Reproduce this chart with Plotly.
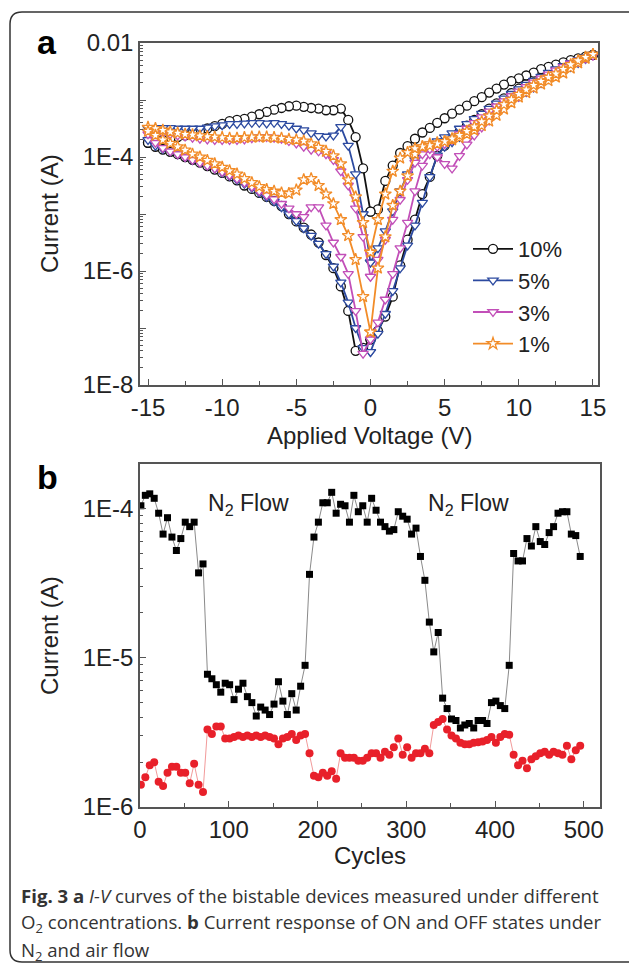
import numpy as np
import plotly.graph_objects as go

W, H = 629, 969

# ---------------- Panel a data (log10 of current in A) ----------------
# sweep branches: B1 0 -> +15, B2 +15 -> 0, B3 0 -> -15, B4 -15 -> 0 (0.5 V steps)
v_b1 = [i * 0.5 for i in range(31)]
v_b2 = v_b1[::-1]
v_b3 = [-v for v in v_b1]
v_b4 = v_b3[::-1]

labels = ["10%", "5%", "3%", "1%"]

log_10_b1 = [-7.2, -7.05, -6.8, -6.45, -5.9, -5.45, -5.1, -4.65, -4.35, -3.98, -3.8, -3.68, -3.56, -3.45, -3.35, -3.25,
             -3.15, -3.06, -2.97, -2.88, -2.8, -2.72, -2.65, -2.58, -2.52, -2.46, -2.4, -2.34, -2.29, -2.25, -2.21]
log_10_b2 = [-2.21, -2.24, -2.27, -2.3, -2.34, -2.38, -2.42, -2.46, -2.52, -2.57, -2.62, -2.67, -2.73, -2.8, -2.87, -2.95,
             -3.02, -3.1, -3.17, -3.24, -3.32, -3.4, -3.49, -3.57, -3.68, -3.81, -3.93, -4.15, -4.42, -4.92, -4.96]
log_10_b3 = [-4.96, -4.2, -3.65, -3.35, -3.15, -3.18, -3.18, -3.15, -3.14, -3.12, -3.1, -3.11, -3.14, -3.17, -3.21, -3.25,
             -3.29, -3.33, -3.35, -3.37, -3.42, -3.46, -3.5, -3.55, -3.58, -3.62, -3.65, -3.68, -3.7, -3.72, -3.75]
log_10_b4 = [-3.75, -3.82, -3.87, -3.91, -3.95, -4.0, -4.05, -4.1, -4.16, -4.22, -4.28, -4.34, -4.41, -4.5, -4.56, -4.63,
             -4.7, -4.77, -4.86, -5.0, -5.13, -5.24, -5.36, -5.5, -5.72, -5.95, -6.27, -6.7, -7.4, -7.35, -7.2]

log_5_b1 = [-7.42, -7.1, -6.75, -6.35, -5.95, -5.55, -5.2, -4.8, -4.35, -3.97, -3.82, -3.74, -3.65, -3.56, -3.47, -3.38,
            -3.29, -3.2, -3.11, -3.02, -2.94, -2.86, -2.78, -2.7, -2.63, -2.56, -2.49, -2.42, -2.35, -2.28, -2.21]
log_5_b2 = [-2.2, -2.25, -2.3, -2.35, -2.4, -2.46, -2.52, -2.59, -2.66, -2.73, -2.81, -2.89, -2.97, -3.06, -3.15, -3.24,
            -3.33, -3.42, -3.5, -3.58, -3.65, -3.72, -3.78, -3.88, -4.05, -4.3, -4.6, -4.95, -5.3, -5.6, -5.85]
log_5_b3 = [-5.85, -5.0, -4.3, -3.8, -3.47, -3.62, -3.64, -3.63, -3.58, -3.53, -3.5, -3.45, -3.42, -3.4, -3.41, -3.4,
            -3.4, -3.41, -3.42, -3.42, -3.44, -3.46, -3.48, -3.5, -3.5, -3.5, -3.5, -3.49, -3.49, -3.49, -3.5]
log_5_b4 = [-3.7, -3.8, -3.86, -3.9, -3.95, -4.0, -4.05, -4.1, -4.15, -4.2, -4.27, -4.33, -4.4, -4.47, -4.54, -4.62,
            -4.7, -4.78, -4.88, -5.0, -5.12, -5.25, -5.38, -5.52, -5.7, -5.92, -6.2, -6.55, -7.0, -7.35, -7.42]

log_3_b1 = [-7.2, -6.9, -6.5, -6.05, -5.6, -5.15, -4.6, -4.15, -3.95, -4.0, -4.12, -4.2, -3.98, -3.78, -3.62, -3.48,
            -3.36, -3.24, -3.13, -3.03, -2.94, -2.85, -2.77, -2.69, -2.61, -2.54, -2.47, -2.4, -2.33, -2.27, -2.22]
log_3_b2 = [-2.22, -2.26, -2.31, -2.36, -2.42, -2.48, -2.55, -2.62, -2.69, -2.77, -2.85, -2.93, -3.02, -3.11, -3.2, -3.3,
            -3.4, -3.5, -3.6, -3.7, -3.77, -3.82, -3.86, -3.95, -4.1, -4.4, -4.75, -5.1, -5.45, -5.8, -6.1]
log_3_b3 = [-6.1, -5.4, -4.9, -4.5, -4.25, -4.05, -3.95, -3.9, -3.87, -3.82, -3.76, -3.72, -3.68, -3.66, -3.65, -3.65,
            -3.67, -3.69, -3.7, -3.7, -3.7, -3.7, -3.69, -3.68, -3.66, -3.64, -3.62, -3.6, -3.58, -3.57, -3.56]
log_3_b4 = [-3.6, -3.75, -3.84, -3.9, -3.95, -4.0, -4.05, -4.1, -4.15, -4.2, -4.26, -4.32, -4.38, -4.45, -4.52, -4.6,
            -4.67, -4.74, -4.82, -4.9, -5.0, -5.05, -4.88, -4.88, -5.2, -5.5, -5.75, -6.05, -6.7, -7.45, -7.2]

log_1_b1 = [-7.07, -5.95, -5.4, -4.85, -4.6, -4.33, -3.95, -3.82, -3.77, -3.75, -3.73, -3.7, -3.66, -3.6, -3.53, -3.45,
            -3.37, -3.27, -3.16, -3.05, -2.95, -2.87, -2.79, -2.72, -2.66, -2.6, -2.53, -2.44, -2.35, -2.27, -2.2]
log_1_b2 = [-2.2, -2.25, -2.31, -2.38, -2.46, -2.54, -2.6, -2.67, -2.74, -2.82, -2.9, -2.99, -3.08, -3.18, -3.28, -3.38,
            -3.47, -3.55, -3.62, -3.68, -3.73, -3.77, -3.8, -3.82, -3.85, -3.92, -4.02, -4.25, -4.65, -5.1, -5.67]
log_1_b3 = [-5.67, -5.15, -4.7, -4.4, -4.12, -3.98, -3.9, -3.83, -3.77, -3.72, -3.7, -3.69, -3.67, -3.66, -3.65, -3.65,
            -3.65, -3.66, -3.67, -3.67, -3.66, -3.65, -3.64, -3.63, -3.61, -3.6, -3.58, -3.56, -3.53, -3.5, -3.48]
log_1_b4 = [-3.55, -3.62, -3.7, -3.76, -3.82, -3.88, -3.95, -4.0, -4.06, -4.12, -4.18, -4.24, -4.3, -4.38, -4.45, -4.52,
            -4.57, -4.6, -4.63, -4.64, -4.58, -4.4, -4.38, -4.5, -4.65, -4.82, -5.1, -5.38, -5.8, -6.45, -7.07]

series_a = [
    (log_10_b1, log_10_b2, log_10_b3, log_10_b4),
    (log_5_b1, log_5_b2, log_5_b3, log_5_b4),
    (log_3_b1, log_3_b2, log_3_b3, log_3_b4),
    (log_1_b1, log_1_b2, log_1_b3, log_1_b4),
]

volt_ticks = [-15, -10, -5, 0, 5, 10, 15]
volt_ticktext = ["-15", "-10", "-5", "0", "5", "10", "15"]

# ---------------- Panel b data ----------------
cycles = list(range(1, 500, 5))
log_on = [-3.98, -3.91, -3.9, -3.93, -4.03, -4.17, -4.06, -4.19, -4.28, -4.2, -4.09, -4.12, -4.09, -4.43, -4.37,
          -5.11, -5.14, -5.18, -5.23, -5.17, -5.18, -5.28, -5.21, -5.17, -5.26, -5.3, -5.39, -5.33, -5.35, -5.38,
          -5.31, -5.16, -5.29, -5.38, -5.24, -5.35, -5.19, -5.05,
          -4.44, -4.19, -4.09, -3.96, -3.96, -3.89, -4.03, -3.97, -3.98, -4.09, -3.91, -4.02, -3.98, -4.09, -3.93,
          -4.01, -4.09, -4.12, -4.15, -4.14, -4.02, -4.05, -4.07, -4.17, -4.13, -4.32, -4.48, -4.76,
          -4.96, -4.83,
          -5.27, -5.34, -5.41, -5.42, -5.47, -5.45, -5.44, -5.47, -5.42, -5.42, -5.44, -5.3, -5.29, -5.32, -5.34,
          -5.05,
          -4.3, -4.35, -4.35, -4.2, -4.25, -4.12, -4.22, -4.24, -4.16, -4.12, -4.03, -4.02, -4.02, -4.17, -4.18, -4.32]
log_off = [-5.85, -5.8, -5.72, -5.7, -5.83, -5.86, -5.77, -5.73, -5.73, -5.77, -5.77, -5.84, -5.71, -5.85, -5.9,
           -5.48, -5.51, -5.46, -5.46, -5.54, -5.54, -5.53, -5.52, -5.53, -5.52, -5.53, -5.52, -5.53, -5.52, -5.53,
           -5.54, -5.58, -5.54, -5.53, -5.51, -5.55, -5.52, -5.51,
           -5.64, -5.79, -5.8, -5.77, -5.79, -5.76, -5.81, -5.64, -5.67, -5.67, -5.67, -5.69, -5.69, -5.67, -5.64,
           -5.64, -5.67, -5.63, -5.65, -5.6, -5.54, -5.65, -5.6, -5.67, -5.64, -5.64, -5.61, -5.64,
           -5.45, -5.43, -5.41, -5.48, -5.52, -5.54, -5.57, -5.58, -5.58, -5.57, -5.565, -5.56, -5.55, -5.53, -5.57,
           -5.53, -5.51, -5.515,
           -5.65, -5.72, -5.69, -5.74, -5.68, -5.66, -5.64, -5.63, -5.65, -5.63, -5.64, -5.65, -5.59, -5.68, -5.62, -5.59]

# ---------------- styles ----------------
colors = ["#111111", "#2c4aa0", "#c24fb8", "#f28c28"]
symbols = ["circle", "triangle-down", "triangle-down", "star"]
FONT = "Liberation Sans"


def px_x(p):
    return p / W


def px_y(p):
    return 1 - p / H


fig = go.Figure()

for lab, col, sym, br in zip(labels, colors, symbols, series_a):
    vx = v_b1 + v_b2 + v_b3 + v_b4
    ly = br[0] + br[1] + br[2] + br[3]
    fig.add_trace(go.Scatter(
        x=vx, y=10 ** np.array(ly), mode="lines+markers", name=lab,
        line=dict(color=col, width=1.8),
        marker=dict(symbol=sym, size=9, color="white", line=dict(color=col, width=1.3)),
        xaxis="x", yaxis="y"))

fig.add_trace(go.Scatter(
    x=cycles, y=10 ** np.array(log_on), mode="lines+markers", showlegend=False,
    line=dict(color="#8a8a8a", width=1),
    marker=dict(symbol="square", size=7, color="black"),
    xaxis="x2", yaxis="y2"))
fig.add_trace(go.Scatter(
    x=cycles, y=10 ** np.array(log_off), mode="lines+markers", showlegend=False,
    line=dict(color="#f29a9a", width=1),
    marker=dict(symbol="circle", size=8, color="#e8202a"),
    xaxis="x2", yaxis="y2"))

minor_a = [m * 10.0 ** e for e in range(-8, -2) for m in range(2, 10)]
minor_b = [m * 10.0 ** e for e in range(-6, -3) for m in range(2, 10)]

axis_common = dict(showline=True, linecolor="#555", linewidth=1.5, mirror=True, showgrid=False,
                   zeroline=False, ticks="inside", tickcolor="#555", tickwidth=1.2, automargin=False,
                   tickfont=dict(family=FONT, size=24, color="#222"))

fig.update_layout(
    width=W, height=H, margin=dict(l=0, r=0, t=0, b=0, pad=0), autosize=False,
    paper_bgcolor="white", plot_bgcolor="white",
    xaxis=dict(domain=[px_x(140), px_x(598)], range=[-15.54, 15.34], anchor="y",
               tickmode="array", tickvals=volt_ticks, ticktext=volt_ticktext, ticklen=6,
               minor=dict(tickvals=[-12.5, -7.5, -2.5, 2.5, 7.5, 12.5], ticks="inside", ticklen=4,
                          tickcolor="#555"),
               **axis_common),
    yaxis=dict(domain=[px_y(385), px_y(43)], type="log", range=[-8, -2], anchor="x",
               tickvals=[1e-8, 1e-7, 1e-6, 1e-5, 1e-4, 1e-3, 1e-2],
               ticktext=["1E-8", "", "1E-6", "", "1E-4", "", "0.01"], ticklen=6,
               minor=dict(tickmode="array", tickvals=minor_a, ticks="inside", ticklen=3, tickcolor="#555"),
               **axis_common),
    xaxis2=dict(domain=[px_x(140), px_x(600)], range=[0, 518.3], anchor="y2",
                tickvals=[0, 100, 200, 300, 400, 500], ticklen=6,
                minor=dict(tickvals=[50, 150, 250, 350, 450], ticks="inside", ticklen=4, tickcolor="#555"),
                **axis_common),
    yaxis2=dict(domain=[px_y(807), px_y(464)], type="log", range=[-6, -3.7], anchor="x2",
                tickvals=[1e-6, 1e-5, 1e-4], ticktext=["1E-6", "1E-5", "1E-4"], ticklen=6,
                minor=dict(tickmode="array", tickvals=minor_b, ticks="inside", ticklen=3, tickcolor="#555"),
                **axis_common),
    legend=dict(x=px_x(468), y=px_y(228), xanchor="left", yanchor="top",
                font=dict(family=FONT, size=22, color="#222"), bgcolor="rgba(0,0,0,0)",
                tracegroupgap=0, itemwidth=40),
    showlegend=True,
)

ann = []
ann.append(dict(text="<b>a</b>", x=px_x(47), y=px_y(42), font=dict(family=FONT, size=34, color="black")))
ann.append(dict(text="<b>b</b>", x=px_x(47), y=px_y(477), font=dict(family=FONT, size=34, color="black")))
ann.append(dict(text="Current (A)", x=px_x(49), y=px_y(214), textangle=-90,
                font=dict(family=FONT, size=24, color="#222")))
ann.append(dict(text="Current (A)", x=px_x(49), y=px_y(636), textangle=-90,
                font=dict(family=FONT, size=24, color="#222")))
ann.append(dict(text="Applied Voltage (V)", x=px_x(369), y=px_y(435),
                font=dict(family=FONT, size=24, color="#222")))
ann.append(dict(text="Cycles", x=px_x(370), y=px_y(855),
                font=dict(family=FONT, size=24, color="#222")))
ann.append(dict(text="N<sub>2</sub> Flow", x=px_x(248), y=px_y(505),
                font=dict(family=FONT, size=23, color="#222")))
ann.append(dict(text="N<sub>2</sub> Flow", x=px_x(468), y=px_y(505),
                font=dict(family=FONT, size=23, color="#222")))

CAP = "Open Sans"
cap_lines = [
    "<b>Fig. 3</b> <b>a</b> <i>I-V</i> curves of the bistable devices measured under different",
    "O<sub>2</sub> concentrations. <b>b</b> Current response of ON and OFF states under",
    "N<sub>2</sub> and air flow",
]
for i, t in enumerate(cap_lines):
    ann.append(dict(text=t, x=px_x(19), y=px_y(895 + 28 * i), xanchor="left",
                    font=dict(family=CAP, size=18.6, color="#333")))

for a in ann:
    a.setdefault("xanchor", "center")
    a.update(xref="paper", yref="paper", yanchor="middle", showarrow=False)
fig.update_layout(annotations=ann)

# figure frame (rounded on the left, cut at the right edge)
path = ("M {x1},{yt} L {xc},{yt} Q {xl},{yt} {xl},{yt2} L {xl},{yb2} Q {xl},{yb} {xc},{yb} L {x1},{yb}").format(
    x1=px_x(660), xc=px_x(22), xl=px_x(10), yt=px_y(12), yt2=px_y(24), yb=px_y(962), yb2=px_y(950))
fig.add_shape(type="path", path=path, xref="paper", yref="paper", line=dict(color="#333", width=1.5))

fig.write_html(
    "out.html",
    config={"displayModeBar": False, "responsive": False},
    post_script=("document.documentElement.style.margin='0';document.body.style.margin='0';"
                 "document.body.style.padding='0';document.documentElement.style.overflow='hidden';"
                 "document.body.style.overflow='hidden';"),
)
